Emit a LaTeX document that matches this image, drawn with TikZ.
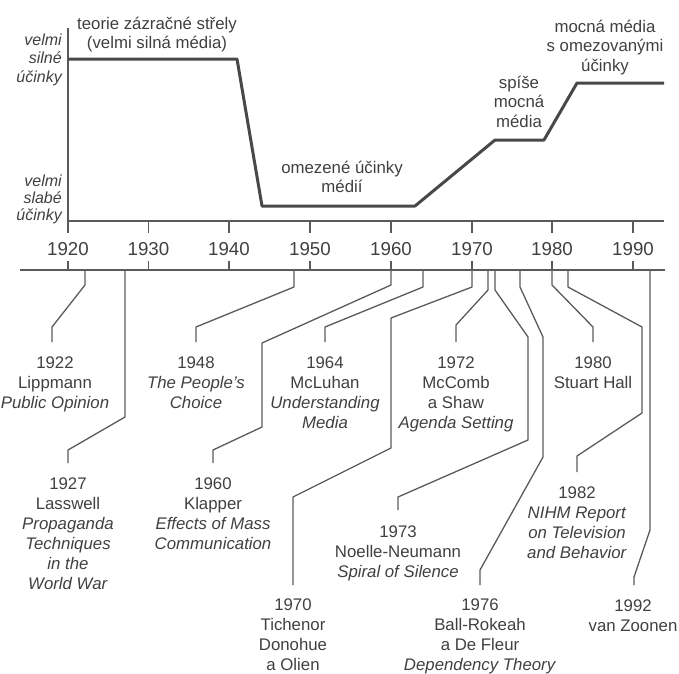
\documentclass[tikz,border=0pt]{standalone}
\usepackage{fontspec}
\setmainfont{Liberation Sans}
\definecolor{ln}{HTML}{5A5A5A}
\definecolor{cv}{HTML}{484848}
\definecolor{tx}{HTML}{404040}
\begin{document}
\begin{tikzpicture}[x=1pt,y=-1pt,
  axis/.style={draw=ln, line width=1.5pt},
  curve/.style={draw=cv, line width=3pt, line join=round},
  conn/.style={draw=ln, line width=1.3pt, line join=round},
  lab/.style={text=tx, font=\fontsize{16.8}{20}\selectfont, align=center, anchor=base, inner sep=0pt},
  yr/.style={text=tx, font=\fontsize{18.7}{22}\selectfont, anchor=base, inner sep=0pt},
  ylab/.style={text=tx, font=\fontsize{16}{18.5}\selectfont\itshape, align=right, anchor=base east, inner sep=0pt},
  toplab/.style={text=tx, font=\fontsize{16.8}{19.5}\selectfont, align=center, anchor=base, inner sep=0pt},
]
\useasboundingbox (0,0) rectangle (679,673);

% ---- upper chart ----
\draw[axis] (68,28) -- (68,233);
\draw[axis] (68,221) -- (664,221);
\foreach \x in {148.5,229,310,391,472,552,633}
  \draw[axis] (\x,221) -- (\x,233);
\draw[curve] (68,59) -- (237,59) -- (262,206) -- (415,206) -- (495,140) -- (544,140) -- (577,83) -- (664,83);

% (base anchor = baseline of the last line)
\node[ylab] (ystrong) at (62,82) {velmi\\silné\\účinky};
\node[ylab, font=\fontsize{16}{17}\selectfont\itshape] (yweak) at (62,220) {velmi\\slabé\\účinky};
\node[toplab] (bullet) at (157,48.5) {teorie zázračné střely\\(velmi silná média)};
\node[toplab] (limited) at (342,192.5) {omezené účinky\\médií};
\node[toplab] (rather) at (519,127) {spíše\\mocná\\média};
\node[toplab] (powerful) at (605,71) {mocná média\\s omezovanými\\účinky};

% ---- time axis ----
\draw[axis] (20,270) -- (665,270);
\foreach \x/\y in {68/1920,148.5/1930,229/1940,310/1950,391/1960,472/1970,552/1980,633/1990}{
  \draw[axis] (\x,261) -- (\x,270);
  \node[yr] (y\y) at (\x,255) {\y};
}

% ---- events ----
\coordinate (t1922) at (85,270);   \coordinate (e1922) at (52,342);
\coordinate (t1927) at (125,270);  \coordinate (e1927) at (68,463);
\coordinate (t1948) at (294,270);  \coordinate (e1948) at (196,342);
\coordinate (t1960) at (391,270);  \coordinate (e1960) at (213,463);
\coordinate (t1964) at (423,270);  \coordinate (e1964) at (325,342);
\coordinate (t1970) at (472,270);  \coordinate (e1970) at (293,585);
\coordinate (t1972) at (488,270);  \coordinate (e1972) at (456,342);
\coordinate (t1973) at (495,270);  \coordinate (e1973) at (398,510);
\coordinate (t1976) at (520,270);  \coordinate (e1976) at (480,585);
\coordinate (t1980) at (552,270);  \coordinate (e1980) at (593,342);
\coordinate (t1982) at (568,270);  \coordinate (e1982) at (577,472);
\coordinate (t1992) at (650,270);  \coordinate (e1992) at (634,585);

\node[lab] (l1922) at (55,408) {1922\\Lippmann\\\textit{Public Opinion}};
\node[lab] (l1927) at (68,589) {1927\\Lasswell\\\textit{Propaganda}\\\textit{Techniques}\\\textit{in the}\\\textit{World War}};
\node[lab] (l1948) at (196,408) {1948\\\textit{The People's}\\\textit{Choice}};
\node[lab] (l1960) at (213,549) {1960\\Klapper\\\textit{Effects of Mass}\\\textit{Communication}};
\node[lab] (l1964) at (325,428) {1964\\McLuhan\\\textit{Understanding}\\\textit{Media}};
\node[lab] (l1970) at (293,670) {1970\\Tichenor\\Donohue\\a Olien};
\node[lab] (l1972) at (456,428) {1972\\McComb\\a Shaw\\\textit{Agenda Setting}};
\node[lab] (l1973) at (398,577) {1973\\Noelle-Neumann\\\textit{Spiral of Silence}};
\node[lab] (l1976) at (480,670) {1976\\Ball-Rokeah\\a De Fleur\\\textit{Dependency Theory}};
\node[lab] (l1980) at (593,388) {1980\\Stuart Hall};
\node[lab] (l1982) at (577,558) {1982\\\textit{NIHM Report}\\\textit{on Television}\\\textit{and Behavior}};
\node[lab] (l1992) at (633,631) {1992\\van Zoonen};

\draw[conn] (t1922) -- (85,285) -- (52,327) -- (e1922);
\draw[conn] (t1927) -- (125,417) -- (68,450) -- (e1927);
\draw[conn] (t1948) -- (294,287) -- (196,327) -- (e1948);
\draw[conn] (t1960) -- (391,285) -- (262,343) -- (262,427) -- (213,450) -- (e1960);
\draw[conn] (t1964) -- (423,287) -- (325,327) -- (e1964);
\draw[conn] (t1970) -- (472,287) -- (391,318) -- (391,448) -- (293,497) -- (e1970);
\draw[conn] (t1972) -- (488,290) -- (456,325) -- (e1972);
\draw[conn] (t1973) -- (495,290) -- (528,337) -- (528,440) -- (398,497) -- (e1973);
\draw[conn] (t1976) -- (520,287) -- (543,337) -- (543,457) -- (480,570) -- (e1976);
\draw[conn] (t1980) -- (552,285) -- (593,327) -- (e1980);
\draw[conn] (t1982) -- (568,287) -- (642,327) -- (642,413) -- (577,456) -- (e1982);
\draw[conn] (t1992) -- (650,530) -- (634,577) -- (e1992);
\end{tikzpicture}
\end{document}
